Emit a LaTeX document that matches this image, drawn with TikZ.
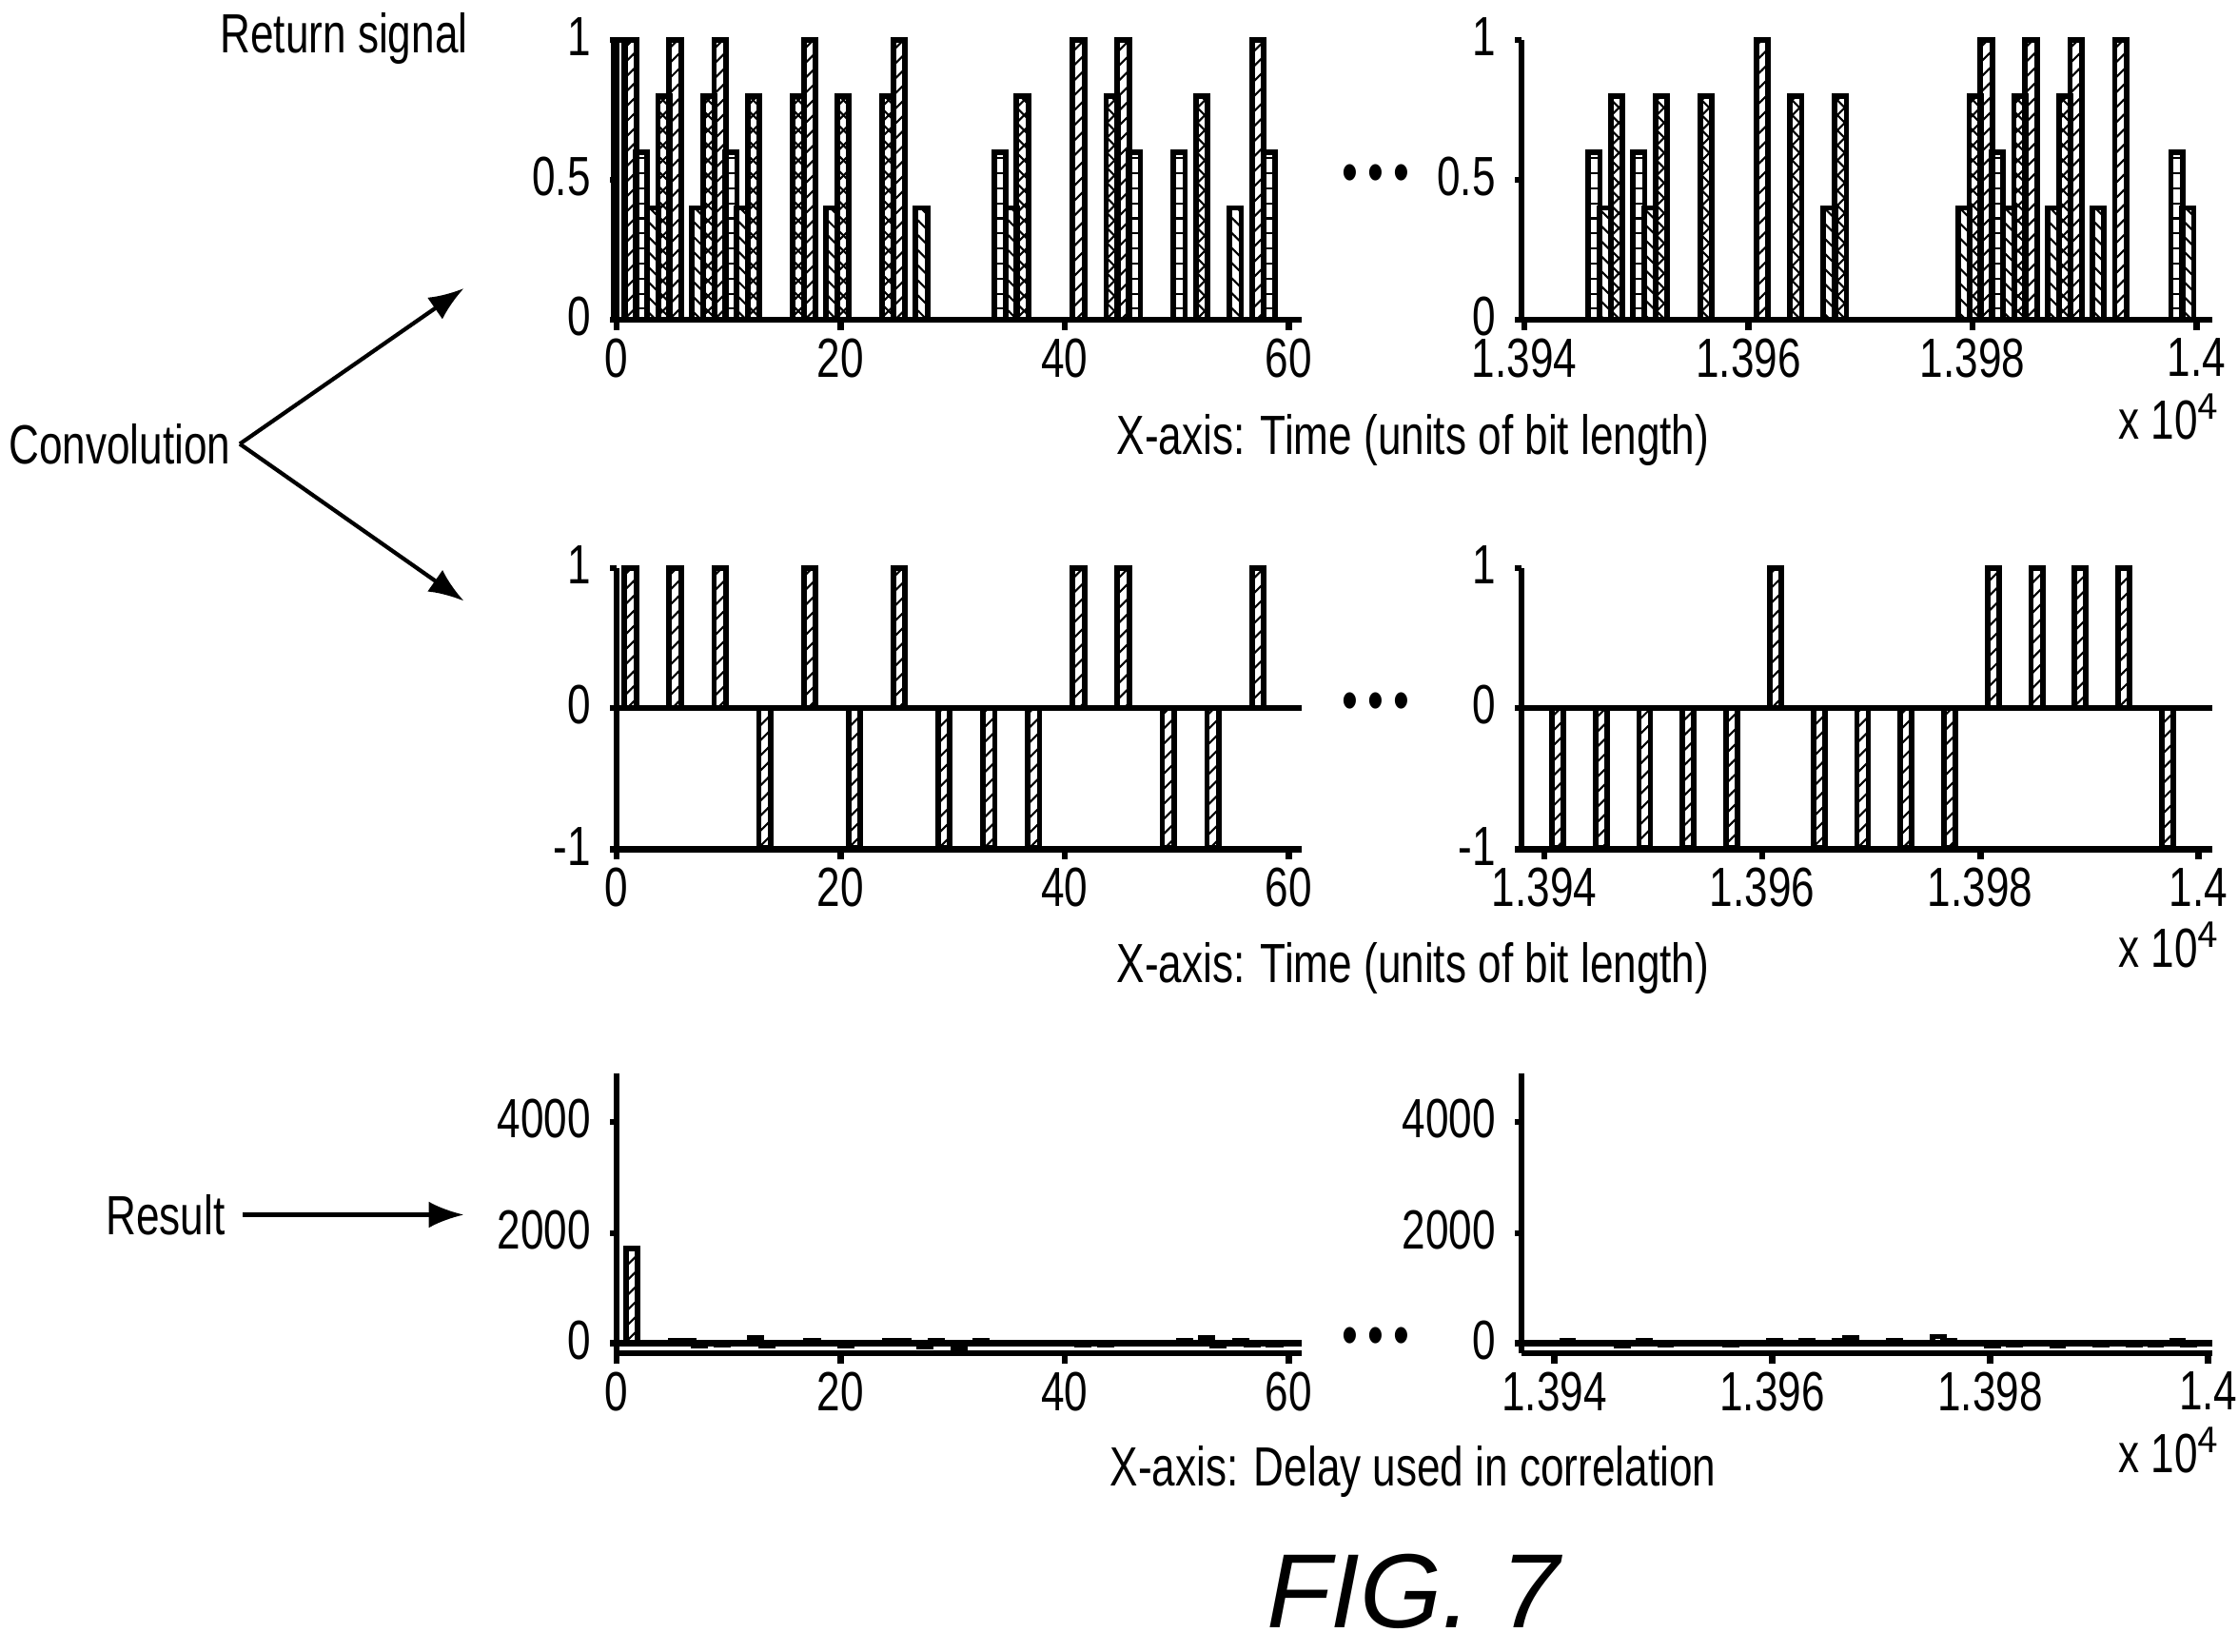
\documentclass[tikz,border=0pt]{standalone}
\usepackage{fontspec}
\setmainfont{Liberation Sans}[FakeStretch=0.76]
\newfontfamily\figfont{Liberation Sans}
\usetikzlibrary{patterns, arrows.meta, positioning}

% one bar of a plot: origin x, base y, height of unit, index, value, style (\bw = px per unit)
\newcommand\bw{7.85}
\newcommand\sigbar[6]{\path[#6] ({#1+\bw*(#4-0.3)},#2) rectangle ({#1+\bw*(#4+0.75)},{#2-#3*#5});}

\tikzset{
  ax/.style={line width=1.3pt},
  bar/.style={draw, line width=1.1pt},
  pa/.style={bar, pattern=north east lines},
  pb/.style={bar, pattern=north west lines},
  ph/.style={bar, pattern=horizontal lines},
  pc/.style={bar, pattern=crosshatch},
  pn/.style={bar, fill=white},
  lbl/.style={font=\fontsize{11}{12}\selectfont, inner sep=1pt},
}

\begin{document}
\begin{tikzpicture}[x=0.01cm, y=-0.01cm, >={Latex[length=7pt]}, font=\fontsize{11}{12}\selectfont]
\useasboundingbox (0,0) rectangle (1568,1157);

% left side labels and arrows
\node[lbl] (ret) at (241,27) {Return signal};
\node[lbl] (conv) at (84,311) {Convolution};
\node[lbl] (res) at (116,851) {Result};
\coordinate (cv) at (168,311);
\coordinate (up) at (325,202);
\coordinate (dn) at (325,421);
\coordinate (rs) at (325,851);
\draw[->, thick] (cv) -- (up);
\draw[->, thick] (cv) -- (dn);
\draw[->, thick] (res.east) ++(8,0) coordinate (rs0) -- (rs);

% ---- top row
\foreach \k/\v/\s in {0/1/pn, 1/1/pa, 2/0.6/ph, 3/0.4/pb, 4/0.8/pc, 5/1/pa, 7/0.4/pb, 8/0.8/pc,
  9/1/pa, 10/0.6/ph, 11/0.4/pb, 12/0.8/pc, 16/0.8/pc, 17/1/pa, 19/0.4/pb, 20/0.8/pc,
  24/0.8/pc, 25/1/pa, 27/0.4/pb, 34/0.6/ph, 35/0.4/pb, 36/0.8/pc, 41/1/pa, 44/0.8/pc,
  45/1/pa, 46/0.6/ph, 50/0.6/ph, 52/0.8/pc, 55/0.4/pb, 57/1/pa, 58/0.6/ph}
  {\sigbar{432}{224}{196}{\k}{\v}{\s}}
\foreach \k/\v/\s in {6/0.6/ph, 7/0.4/pb, 8/0.8/pc, 10/0.6/ph, 11/0.4/pb, 12/0.8/pc,
  16/0.8/pc, 21/1/pa, 24/0.8/pc, 27/0.4/pb, 28/0.8/pc, 39/0.4/pb, 40/0.8/pc, 41/1/pa,
  42/0.6/ph, 43/0.4/pb, 44/0.8/pc, 45/1/pa, 47/0.4/pb, 48/0.8/pc, 49/1/pa, 51/0.4/pb,
  53/1/pa, 58/0.6/ph, 59/0.4/pb}
  {\sigbar{1068}{224}{196}{\k}{\v}{\s}}

% ---- middle row
\foreach \k in {1,5,9,17,25,41,45,57} {\sigbar{432}{496}{98}{\k}{1}{pa}}
\foreach \k in {13,21,29,33,37,49,53} {\sigbar{432}{496}{98}{\k}{-1}{pa}}
\renewcommand\bw{7.63}
\foreach \k in {21,41,45,49,53} {\sigbar{1082}{496}{98}{\k}{1}{pa}}
\foreach \k in {1,5,9,13,17,25,29,33,37,57} {\sigbar{1082}{496}{98}{\k}{-1}{pa}}

% ---- bottom row
\renewcommand\bw{7.9}
\sigbar{433}{941}{0.0386}{1}{1720}{pa}
\foreach \k/\v in {5/40,6/40,7/-40,9/-30,12/100,13/-40,17/40,20/-40,24/40,25/40,27/-60,
  28/40,30/-90,32/40,41/-30,43/-30,50/40,52/100,53/-40,55/40,56/-30,58/-30}
  {\sigbar{433}{941}{0.0386}{\k}{\v}{bar}}
\renewcommand\bw{7.63}
\foreach \k/\v in {1/40,6/-40,8/40,10/-30,16/-30,20/40,23/40,26/40,27/100,31/40,35/120,
  36/40,40/-40,42/-30,46/-40,50/-30,53/-30,55/-30,57/40,58/-30}
  {\sigbar{1089}{941}{0.0386}{\k}{\v}{bar}}

% ---- axes
\foreach \yb/\yt/\ya/\rx/\rw in {224/28/224/1068/157, 595/398/595/1082/152.7, 948/752/948/1089/152.7} {
  \draw[ax] (432,\yt) -- (432,\yb);
  \draw[ax] (1066,\yt) -- (1066,\yb);
  \draw[ax] (432,\ya) -- (912,\ya);
  \draw[ax] (1066,\ya) -- (1550,\ya);
  \foreach \i/\t in {0/0,1/20,2/40,3/60} {
    \draw[ax] ({432+157*\i},\ya) -- ++(0,7);
    \node[lbl, below] at ({432+157*\i},{\ya+9}) {\t};
  }
  \foreach \i/\t in {0/1.394,1/1.396,2/1.398,3/1.4} {
    \draw[ax] ({\rx+\rw*\i},\ya) -- ++(0,7);
    \node[lbl, below] at ({\rx+\rw*\i},{\ya+9}) {\t};
  }
}
\draw[ax] (432,496) -- (912,496);
\draw[ax] (1066,496) -- (1550,496);
\draw[ax] (432,941) -- (912,941);
\draw[ax] (1066,941) -- (1550,941);

% y tick labels
\foreach \x in {432,1066} {
  \foreach \y/\t in {28/1, 126/0.5, 224/0, 398/1, 496/0, 595/-1, 786/4000, 864/2000, 941/0} {
    \draw[ax] (\x,\y) -- ++(-5,0);
    \node[lbl, left] at ({\x-14},{\y-2}) {\t};
  }
}

% axis captions
\node[lbl] (xa1) at (990,308) {X-axis: Time (units of bit length)};
\node[lbl] (xa2) at (990,678) {X-axis: Time (units of bit length)};
\node[lbl] (xa3) at (990,1031) {X-axis: Delay used in correlation};
\foreach \y [count=\n] in {292,662,1016}
  \node[lbl] (sc\n) at (1520,\y) {x 10$^{\mathsf{4}}$};
\foreach \y [count=\n] in {125,495,940}
  \node[font=\fontsize{12}{12}\selectfont] (dots\n) at (964,\y) {\textbullet\,\textbullet\,\textbullet};

\node[font=\figfont\itshape\fontsize{21}{23}\selectfont] (fig) at (990,1115) {FIG. 7};
\end{tikzpicture}
\end{document}
